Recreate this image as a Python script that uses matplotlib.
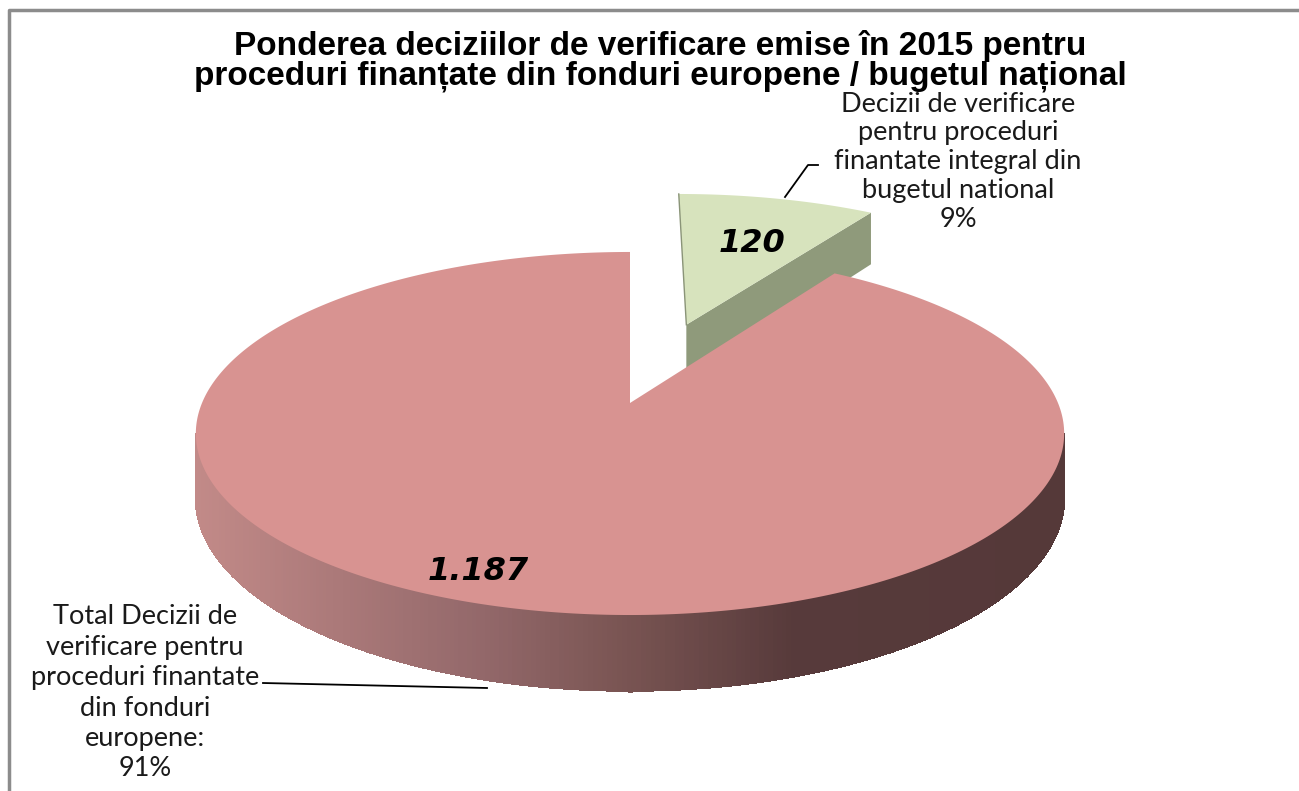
import numpy as np
import matplotlib.pyplot as plt
from matplotlib.colors import LinearSegmentedColormap
from matplotlib.patches import Polygon

# Data
categories = ["Total Decizii de verificare pentru proceduri finantate din fonduri europene",
              "Decizii de verificare pentru proceduri finantate integral din bugetul national"]
values = [1187, 120]
value_labels = ["1.187", "120"]
label_lines = [["Total Decizii de", "verificare pentru", "proceduri finantate", "din fonduri", "europene:"],
               ["Decizii de verificare", "pentru proceduri", "finantate integral din", "bugetul national"]]
title_lines = ["Ponderea deciziilor de verificare emise în 2015 pentru",
               "proceduri finanțate din fonduri europene / bugetul național"]

top_big = "#d89391"
top_small = "#d7e3bd"
side_small = "#8f9a7b"
side_cmap = LinearSegmentedColormap.from_list(
    "side", [(0.0, "#c28a88"), (0.33, "#93686a"), (0.49, "#7a5553"),
             (0.69, "#573a3b"), (1.0, "#553939")])

# projection of the 3D disk (u, v on unit disk, z = depth 0 top / 1 bottom) to pixel coords
cx, a, y0, b, k, depth = 630, 428, 403, 108.7, 0.168, 63


def proj(u, v, z=0.0):
    s = 1.0 / (1.0 + k * v)
    return cx + a * u * s, (y0 - b * v + depth * z) * s


fig = plt.figure(figsize=(12.99, 7.91), dpi=100)
ax = fig.add_axes([0, 0, 1, 1])
ax.set_xlim(0, 1299)
ax.set_ylim(791, 0)
ax.axis("off")

total = sum(values)
small_span = 360.0 * values[1] / total
start = 90.0  # small slice runs clockwise from 12 o'clock
s_a0, s_a1 = start - small_span, start
explode = 0.5
mid = np.radians((s_a0 + s_a1) / 2)
ou, ov = explode * np.cos(mid), explode * np.sin(mid)

# small slice: radial face on the right, then top
t = np.radians(s_a0)
p1 = proj(ou, ov, 0); p2 = proj(ou + np.cos(t), ov + np.sin(t), 0)
p3 = proj(ou + np.cos(t), ov + np.sin(t), 1); p4 = proj(ou, ov, 1)
ax.add_patch(Polygon([p1, p2, p3, p4], closed=True, fc=side_small, ec="none"))
th = np.radians(np.linspace(s_a0, s_a1, 60))
pts = [proj(ou, ov)] + [proj(ou + np.cos(q), ov + np.sin(q)) for q in th]
ax.add_patch(Polygon(pts, closed=True, fc=top_small, ec="none"))
ax.plot([proj(ou, ov)[0], pts[-1][0]], [proj(ou, ov)[1], pts[-1][1]], color="#8a9478", lw=1)

# big slice: front wall with gradient
edge = np.degrees(np.arcsin(k))
th = np.radians(np.linspace(180 + edge, 360 - edge, 300))
xs_all = [proj(np.cos(q), np.sin(q))[0] for q in th]
xmin, xmax = min(xs_all), max(xs_all)
for i in range(len(th) - 1):
    q0, q1 = th[i], th[i + 1]
    quad = [proj(np.cos(q0), np.sin(q0), 0), proj(np.cos(q1), np.sin(q1), 0),
            proj(np.cos(q1), np.sin(q1), 1), proj(np.cos(q0), np.sin(q0), 1)]
    xm = (quad[0][0] + quad[1][0]) / 2
    col = side_cmap((xm - xmin) / (xmax - xmin))
    ax.add_patch(Polygon(quad, closed=True, fc=col, ec=col, lw=0.8, antialiased=False))

# big slice top
th = np.radians(np.linspace(start, s_a0 + 360, 400))
pts = [proj(0, 0)] + [proj(np.cos(q), np.sin(q)) for q in th]
ax.add_patch(Polygon(pts, closed=True, fc=top_big, ec="none"))

# value labels
ax.text(478, 572, value_labels[0], fontsize=23, fontweight="bold", style="italic",
        family="DejaVu Sans", ha="center", va="center")
ax.text(752, 243, value_labels[1], fontsize=23, fontweight="bold", style="italic",
        family="DejaVu Sans", ha="center", va="center")

# category labels with percentages
pcts = [f"{round(100 * v / total)}%" for v in values]
lab_font = dict(fontsize=19.5, family="Lato", color="#1a1a1a", ha="center", va="center")
for i, line in enumerate(label_lines[0] + [pcts[0]]):
    ax.text(145, 617 + 30.4 * i, line, **lab_font)
for i, line in enumerate(label_lines[1] + [pcts[1]]):
    ax.text(958, 104 + 28.8 * i, line, **lab_font)

# leader lines
ax.plot([263, 487], [683, 688], color="black", lw=1.3)
ax.plot([785, 808, 818], [197, 165, 165], color="black", lw=1.3)

# title
for i, line in enumerate(title_lines):
    ax.text(660, 46 + 30 * i, line, fontsize=24, fontweight="bold",
            family="Liberation Sans", ha="center", va="center")

# frame and cut-off header
ax.plot([9, 9, 1299], [791, 10, 10], color="#8c8c8c", lw=2.5)
ax.text(1288, 3, "Grafic nr.5", fontsize=16, fontweight="bold", family="Liberation Sans",
        ha="right", va="bottom")

fig.savefig("out.png", dpi=100)
